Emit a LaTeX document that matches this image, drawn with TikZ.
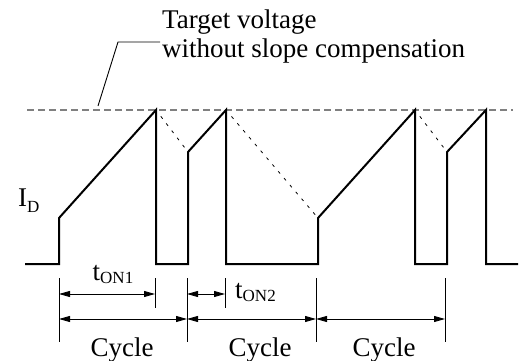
\documentclass[tikz,border=0pt]{standalone}
\usepackage{fontspec}
\setmainfont{Liberation Serif}
\usetikzlibrary{arrows.meta,calc}
\begin{document}
\begin{tikzpicture}[x=1pt,y=-1pt,
  wave/.style={line width=2pt, line join=miter},
  target/.style={draw=gray, line width=1.8pt, dash pattern=on 7pt off 4pt},
  guide/.style={line width=0.8pt, dash pattern=on 3pt off 6pt},
  ext/.style={line width=0.9pt},
  leader/.style={line width=0.9pt},
  dim/.style={line width=0.9pt, {Triangle[length=11pt,width=6pt]}-{Triangle[length=11pt,width=6pt]}},
  lbl/.style={font=\fontsize{27}{30}\selectfont, inner sep=0pt, anchor=base},
  ]
\useasboundingbox (0,0) rectangle (525,361);
\newcommand{\subtxt}[2][-3pt]{\raisebox{#1}{\fontsize{17}{17}\selectfont #2}}

% target line
\coordinate (tl0) at (27,110);
\coordinate (tl1) at (513,110);
\draw[target] (tl0) -- (tl1);

% leader
\coordinate (ld0) at (98,106);
\coordinate (ld1) at (118,42);
\coordinate (ld2) at (160,42);
\draw[leader] (ld0) -- (ld1) -- (ld2);
\node[lbl, anchor=base west] (tgt1) at (162,29) {Target voltage};
\node[lbl, anchor=base west] (tgt2) at (162,58) {without slope compensation};

% waveform
\coordinate (w0) at (25,264);
\coordinate (a0) at (59,264);
\coordinate (a1) at (59,218);
\coordinate (p1) at (156,110);
\coordinate (p1b) at (156,264);
\coordinate (b0) at (188,264);
\coordinate (b1) at (188,152);
\coordinate (p2) at (226,110);
\coordinate (p2b) at (226,264);
\coordinate (c0) at (318,264);
\coordinate (c1) at (318,218);
\coordinate (p3) at (415,110);
\coordinate (p3b) at (415,264);
\coordinate (d0) at (447,264);
\coordinate (d1) at (447,152);
\coordinate (p4) at (486,110);
\coordinate (p4b) at (486,264);
\coordinate (w1) at (518,264);
\draw[wave] (w0) -- (a0) -- (a1) -- (p1) -- (p1b) -- (b0) -- (b1) -- (p2) -- (p2b)
  -- (c0) -- (c1) -- (p3) -- (p3b) -- (d0) -- (d1) -- (p4) -- (p4b) -- (w1);

% dotted guides
\draw[guide] ($(p1)!0.15!(b1)$) -- (b1);
\draw[guide] ($(p2)!0.06!(c1)$) -- (c1);
\draw[guide] ($(p3)!0.15!(d1)$) -- (d1);

\node[lbl, anchor=base west] (id) at (18,206) {I\subtxt[-6pt]{D}};

% extension lines
\coordinate (e1t) at (59,278);  \coordinate (e1b) at (59,342);
\coordinate (e2t) at (155,278); \coordinate (e2b) at (155,308);
\coordinate (e3t) at (187,278); \coordinate (e3b) at (187,342);
\coordinate (e4t) at (225,278); \coordinate (e4b) at (225,308);
\coordinate (e5t) at (316,278); \coordinate (e5b) at (316,342);
\coordinate (e6t) at (445,278); \coordinate (e6b) at (445,342);
\foreach \i in {1,...,6} {\draw[ext] (e\i t) -- (e\i b);}

% dimension arrows
\coordinate (t1a) at (59,294);  \coordinate (t1b) at (155,294);
\coordinate (t2a) at (187,294); \coordinate (t2b) at (225,294);
\coordinate (c1a) at (59,319);  \coordinate (c1b) at (187,319);
\coordinate (c2a) at (187,319); \coordinate (c2b) at (316,319);
\coordinate (c3a) at (316,319); \coordinate (c3b) at (445,319);
\draw[dim] (t1a) -- (t1b);
\draw[dim] (t2a) -- (t2b);
\draw[dim] (c1a) -- (c1b);
\draw[dim] (c2a) -- (c2b);
\draw[dim] (c3a) -- (c3b);

\node[lbl] (ton1) at (113,280) {t\subtxt{ON1}};
\node[lbl, anchor=base west] (ton2) at (235,298) {t\subtxt{ON2}};
\node[lbl] (cy1) at (122,356) {Cycle};
\node[lbl] (cy2) at (260,356) {Cycle};
\node[lbl] (cy3) at (384,356) {Cycle};
\end{tikzpicture}
\end{document}
